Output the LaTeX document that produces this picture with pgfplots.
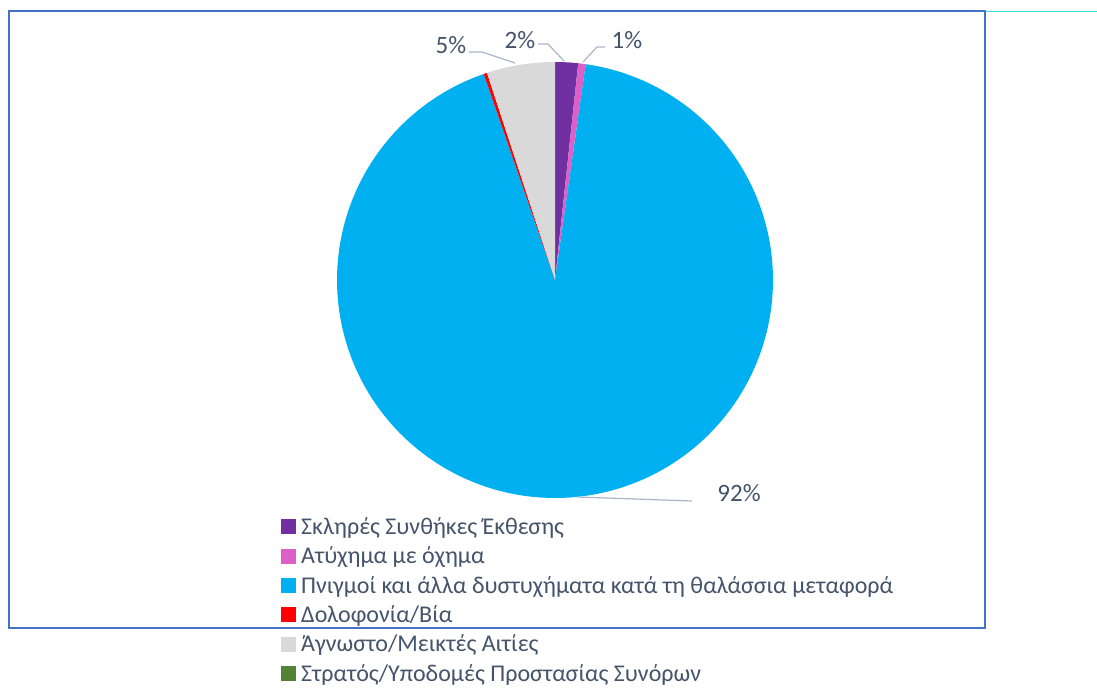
\documentclass[border=0pt]{standalone}
\usepackage{pgfplots}
\pgfplotsset{compat=1.18}
\usepgfplotslibrary{polar}
\usepackage{fontspec}
\setmainfont{Carlito}
\definecolor{cPurple}{HTML}{7030A0}
\definecolor{cPink}{HTML}{DD5FC8}
\definecolor{cBlue}{HTML}{00B0F0}
\definecolor{cRed}{HTML}{FF0000}
\definecolor{cGray}{HTML}{D9D9D9}
\definecolor{cGreen}{HTML}{548235}
\definecolor{cText}{HTML}{44546A}
\definecolor{cLead}{HTML}{ABB6C8}
\definecolor{cFrame}{HTML}{4472C4}
\definecolor{cCyan}{HTML}{33E0E8}
% shares in percent, clockwise from 12 o'clock
% Σκληρές 1.70, Ατύχημα 0.55, Πνιγμοί 92.45, Δολοφονία 0.25, Άγνωστο 5.05, Στρατός 0.00
\begin{document}
\begin{tikzpicture}[x=1pt,y=1pt]
\path[use as bounding box] (0,0) rectangle (1097,700);
\fill[white] (0,0) rectangle (1097,700);
\draw[cFrame, line width=2pt] (8.5,72) rectangle (985,688.5);
\draw[cCyan, line width=1pt] (986,688.5) -- (1097,688.5);
\begin{polaraxis}[
  at={(555pt,420pt)}, anchor=origin,
  width=436pt, height=436pt, scale only axis,
  xmin=0, xmax=360, ymin=0, ymax=218,
  hide axis, clip=false,
  legend image code/.code={\fill[#1] (0pt,-6.3pt) rectangle (15pt,8.7pt);},
  legend style={draw=none, fill=none, at={(-0.1284,-0.0413)}, anchor=north west,
    inner sep=0pt, row sep=5.9pt, column sep=5pt,
    font=\fontsize{24}{29}\selectfont, text=cText,
    nodes={inner sep=0pt, text height=18pt, text depth=5.5pt}},
  legend cell align=left,
]
\addplot[fill=cPurple, draw=none, domain=83.88:90, samples=10] {218} -- (0,0) -- cycle;
\addlegendentry{Σκληρές Συνθήκες Έκθεσης}
\addplot[fill=cPink, draw=none, domain=81.9:83.88, samples=5] {218} -- (0,0) -- cycle;
\addlegendentry{Ατύχημα με όχημα}
\addplot[fill=cBlue, draw=none, domain=-250.92:81.9, samples=200] {218} -- (0,0) -- cycle;
\addlegendentry{Πνιγμοί και άλλα δυστυχήματα κατά τη θαλάσσια μεταφορά}
\addplot[fill=cRed, draw=none, domain=-251.82:-250.92, samples=3] {218} -- (0,0) -- cycle;
\addlegendentry{Δολοφονία/Βία}
\addplot[fill=cGray, draw=none, domain=-270:-251.82, samples=20] {218} -- (0,0) -- cycle;
\addlegendentry{Άγνωστο/Μεικτές Αιτίες}
\addlegendimage{fill=cGreen, draw=none}
\addlegendentry{Στρατός/Υποδομές Προστασίας Συνόρων}
\end{polaraxis}
\begin{scope}[cLead, line width=1.2pt]
\draw (538,656) -- (548,656) -- (564,639);
\draw (605,653) -- (597,653) -- (583,638);
\draw (469,648) -- (482,648) -- (515,637);
\draw (577,203) -- (692,199);
\end{scope}
\begin{scope}[every node/.style={text=cText, font=\fontsize{25}{30}\selectfont, inner sep=0pt}]
\node at (520,660) {2\%};
\node at (627,660) {1\%};
\node at (451,655) {5\%};
\node at (739,207) {92\%};
\end{scope}
\end{tikzpicture}
\end{document}
